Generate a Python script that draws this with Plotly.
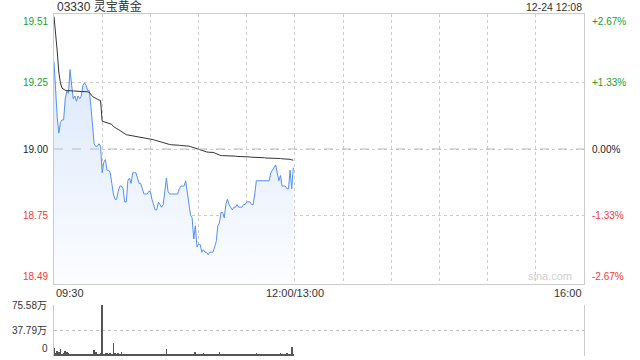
import plotly.graph_objects as go

# ---------------- data ----------------
stock_title = "03330 灵宝黄金"
timestamp = "12-24 12:08"
prev_close = 19.00

# one value per minute from 09:30
price = [
    19.33, 19.22, 19.12, 19.06, 19.10, 19.11, 19.11, 19.19, 19.22, 19.21,
    19.30, 19.24, 19.19, 19.20, 19.18, 19.20, 19.19, 19.20, 19.24, 19.25,
    19.24, 19.22, 19.22, 19.16, 19.08, 19.02, 19.01, 19.01, 19.02, 19.01,
    18.91, 18.95, 18.96, 18.92, 18.92, 18.91, 18.87, 18.83, 18.81, 18.81,
    18.84, 18.86, 18.86, 18.85, 18.80, 18.80, 18.88, 18.89, 18.87, 18.91,
    18.91, 18.91, 18.89, 18.87, 18.87, 18.85, 18.83, 18.83, 18.83, 18.84,
    18.84, 18.81, 18.79, 18.77, 18.77, 18.80, 18.79, 18.78, 18.79, 18.84,
    18.89, 18.84, 18.83, 18.83, 18.83, 18.83, 18.83, 18.83, 18.85, 18.86,
    18.86, 18.86, 18.88, 18.84, 18.80, 18.75, 18.74, 18.66, 18.71, 18.63,
    18.64, 18.64, 18.61, 18.62, 18.61, 18.61, 18.60, 18.61, 18.61, 18.61,
    18.63, 18.65, 18.71, 18.72, 18.76, 18.76, 18.74, 18.79, 18.81, 18.79,
    18.78, 18.77, 18.78, 18.78, 18.79, 18.78, 18.78, 18.78, 18.79, 18.79,
    18.80, 18.80, 18.80, 18.79, 18.79, 18.83, 18.88, 18.88, 18.88, 18.88,
    18.88, 18.88, 18.88, 18.88, 18.88, 18.91, 18.92, 18.93, 18.94, 18.91,
    18.88, 18.90, 18.86, 18.86, 18.86, 18.85, 18.85, 18.92, 18.85, 18.93,
]

avg_price = [
    19.500, 19.440, 19.370, 19.290, 19.250, 19.230, 19.225, 19.222, 19.221, 19.220,
    19.220, 19.220, 19.219, 19.219, 19.218, 19.218, 19.218, 19.217, 19.217, 19.217,
    19.216, 19.216, 19.214, 19.205, 19.198, 19.195, 19.190, 19.188, 19.185, 19.183,
    19.105, 19.103, 19.101, 19.100, 19.099, 19.097, 19.093, 19.085, 19.080, 19.077,
    19.074, 19.070, 19.064, 19.060, 19.057, 19.054, 19.053, 19.052, 19.051, 19.050,
    19.050, 19.049, 19.048, 19.047, 19.046, 19.045, 19.043, 19.042, 19.041, 19.040,
    19.039, 19.037, 19.035, 19.033, 19.031, 19.029, 19.027, 19.025, 19.023, 19.022,
    19.020, 19.018, 19.017, 19.016, 19.016, 19.015, 19.015, 19.014, 19.014, 19.013,
    19.013, 19.012, 19.012, 19.012, 19.011, 19.009, 19.007, 19.005, 19.002, 19.000,
    18.998, 18.996, 18.994, 18.991, 18.990, 18.989, 18.988, 18.988, 18.988, 18.987,
    18.985, 18.982, 18.978, 18.976, 18.975, 18.975, 18.975, 18.974, 18.974, 18.974,
    18.974, 18.973, 18.973, 18.973, 18.972, 18.972, 18.972, 18.971, 18.971, 18.971,
    18.970, 18.970, 18.970, 18.969, 18.969, 18.969, 18.968, 18.968, 18.968, 18.967,
    18.967, 18.967, 18.966, 18.966, 18.966, 18.966, 18.966, 18.965, 18.965, 18.965,
    18.964, 18.964, 18.963, 18.963, 18.962, 18.962, 18.962, 18.961, 18.959, 18.958,
]

# volume in 万
volume = [
    12.6, 4, 7.5, 5.5, 10.6, 2.5, 4, 7.5, 5.5, 4,
    2.5, 3, 1.5, 2, 3, 1.5, 2, 1.5, 2.5, 2,
    1.5, 2, 3, 2, 2.5, 9, 5.5, 2, 3, 4,
    75.58, 3, 4, 4, 2.5, 4, 3, 19, 4, 3,
    5, 2, 6.5, 2.5, 2, 3.5, 2, 2.5, 2, 3,
    2, 2.5, 2, 3, 2, 2, 3, 2, 2.5, 3,
    2, 3, 2, 3, 2, 2.5, 2, 3, 2, 2,
    10, 2, 2.5, 2, 1.5, 2, 2.5, 2, 2, 2.5,
    2, 2, 2.5, 2, 2, 3, 2, 2.5, 6.5, 2.5,
    2, 3, 2, 4, 2.5, 3, 2, 2.5, 2, 2,
    2, 2.5, 2, 6.5, 2, 2.5, 2, 2, 1.5, 2,
    2, 2.5, 2, 2, 1.5, 2, 2, 2, 1.5, 2,
    2, 2, 1.5, 2, 2, 2.5, 4, 2, 2, 1.5,
    2, 2, 2, 1.5, 2, 2.5, 2, 2, 2.5, 2,
    2, 5, 2, 2.5, 2, 4, 2, 3, 13, 3,
]

price_ticks = [18.49, 18.75, 19.00, 19.25, 19.51]
price_labels = ["18.49", "18.75", "19.00", "19.25", "19.51"]
pct_labels = ["-2.67%", "-1.33%", "0.00%", "+1.33%", "+2.67%"]
vol_ticks = [37.79, 75.58]
vol_labels = ["37.79万", "75.58万"]
time_labels = ["09:30", "12:00/13:00", "16:00"]
time_label_pos = [0, 150, 330]   # minutes since 09:30 (lunch break removed)
session_minutes = 330

# ---------------- styling ----------------
GREEN = "#1e9e1e"
RED = "#f03a3a"
BLACK = "#222222"
GRID = "#cccccc"
FONT = "Liberation Sans, Arial, Noto Sans CJK SC, sans-serif"

def colour_for(v):
    if v > prev_close:
        return GREEN
    if v < prev_close:
        return RED
    return BLACK

minutes = list(range(len(price)))

H = 360
T, B = 14, 0
plot_h = H - T - B
def py(p):  # pixel row -> paper fraction
    return (H - B - p) / plot_h

fig = go.Figure()

fig.add_trace(go.Scatter(
    x=minutes, y=price, mode="lines",
    line=dict(color="#5591ee", width=1),
    fill="tozeroy",
    fillgradient=dict(type="vertical", start=price_ticks[0], stop=price_ticks[-1],
                      colorscale=[[0, "rgb(252,253,255)"], [1, "rgb(212,227,250)"]]),
    xaxis="x", yaxis="y", hoverinfo="skip", showlegend=False,
))
fig.add_trace(go.Scatter(
    x=minutes, y=avg_price, mode="lines",
    line=dict(color="#333333", width=1),
    xaxis="x", yaxis="y", hoverinfo="skip", showlegend=False,
))
fig.add_trace(go.Bar(
    x=minutes, y=volume, marker=dict(color="#555555", line=dict(width=0)),
    width=0.45, xaxis="x2", yaxis="y3", hoverinfo="skip", showlegend=False,
))

grid_vals = list(range(0, session_minutes + 1, 30))

fig.update_layout(
    width=640, height=360,
    margin=dict(l=54, r=56, t=T, b=B, pad=0, autoexpand=False),
    paper_bgcolor="white", plot_bgcolor="white",
    font=dict(family=FONT, size=10, color="#333"),
    bargap=0,
    xaxis=dict(
        domain=[0, 1], range=[0, session_minutes], anchor="y",
        tickvals=grid_vals, showticklabels=False, ticks="",
        showgrid=True, gridcolor=GRID, griddash="dot", gridwidth=1,
        showline=True, linecolor=GRID, linewidth=1, mirror=True, zeroline=False,
        automargin=False,
    ),
    yaxis=dict(
        domain=[py(284), 1], range=[price_ticks[0], price_ticks[-1]],
        tickvals=price_ticks, showticklabels=False, ticks="",
        showgrid=True, gridcolor=GRID, griddash="dot", gridwidth=1,
        showline=True, linecolor=GRID, linewidth=1, mirror=True, zeroline=False,
        automargin=False,
    ),
    xaxis2=dict(
        domain=[0, 1], range=[0, session_minutes], anchor="y3",
        showticklabels=False, ticks="", showgrid=False,
        showline=False, zeroline=False, automargin=False,
    ),
    yaxis3=dict(
        domain=[py(356), py(305)], range=[0, vol_ticks[-1]],
        tickvals=vol_ticks, ticktext=vol_labels, ticks="",
        ticklabelstandoff=4,
        showgrid=True, gridcolor="#bbbbbb", griddash="dot", gridwidth=1,
        showline=True, linecolor=GRID, linewidth=1, mirror=True, zeroline=False,
        tickfont=dict(size=10, color="#333"), automargin=False,
    ),
)

# previous close reference line (dashed)
fig.add_shape(type="line", xref="x", yref="y", x0=0, x1=session_minutes,
              y0=prev_close, y1=prev_close,
              line=dict(color="#bbbbbb", width=1, dash="dash"))

ann = []
# price (left) and percentage (right) labels, pinned to the price axis
n = len(price_ticks)
for i, (v, lt, rt) in enumerate(zip(price_ticks, price_labels, pct_labels)):
    if i == 0:
        ya = "bottom"
    elif i == n - 1:
        ya = "top"
    else:
        ya = "middle"
    c = colour_for(v)
    ann.append(dict(text=lt, xref="paper", yref="y", x=0, y=v, xshift=-4,
                    xanchor="right", yanchor=ya, showarrow=False,
                    font=dict(size=10, color=c)))
    ann.append(dict(text=rt, xref="paper", yref="y", x=1, y=v, xshift=6,
                    xanchor="left", yanchor=ya, showarrow=False,
                    font=dict(size=10, color=c)))

ann.append(dict(text=stock_title, xref="x", yref="paper", x=0, y=py(7),
                xanchor="left", yanchor="middle", showarrow=False, xshift=1,
                font=dict(size=12, color="#333")))
ann.append(dict(text=timestamp, xref="x", yref="paper", x=session_minutes, y=py(7),
                xanchor="right", yanchor="middle", showarrow=False,
                font=dict(size=10.5, color="#333")))
anchors = ["left", "center", "right"]
for t, pos, a in zip(time_labels, time_label_pos, anchors):
    ann.append(dict(text=t, xref="x", yref="paper", x=pos, y=py(293),
                    xanchor=a, yanchor="middle", showarrow=False,
                    font=dict(size=11, color="#333")))
ann.append(dict(text="0", xref="paper", yref="y3", x=0, y=0, xshift=-4,
                xanchor="right", yanchor="bottom", showarrow=False,
                font=dict(size=10, color="#333")))
ann.append(dict(text="sina.com", xref="x", yref="y", x=session_minutes, y=price_ticks[0],
                xanchor="right", yanchor="bottom", xshift=-10, yshift=0, showarrow=False,
                font=dict(size=11, color="#cfcfcf")))
fig.update_layout(annotations=ann)

fig.write_html("out.html")
